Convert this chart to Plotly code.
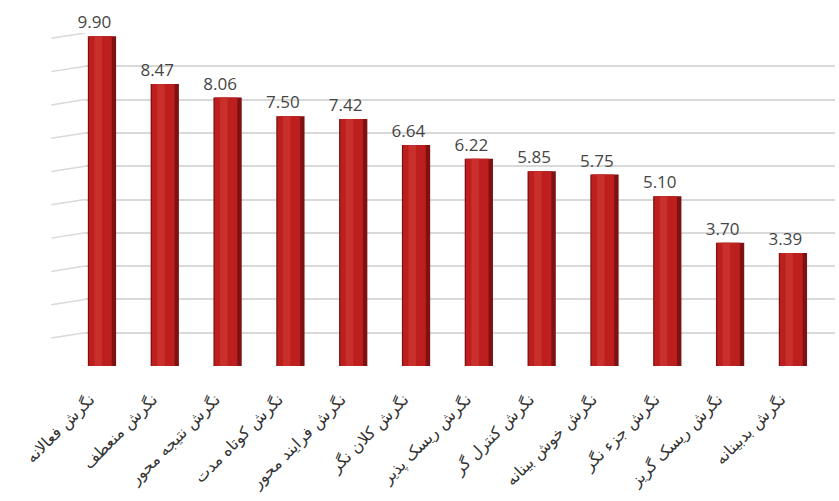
import plotly.graph_objects as go

categories = [
    "نگرش فعالانه",
    "نگرش منعطف",
    "نگرش نتیجه محور",
    "نگرش کوتاه مدت",
    "نگرش فرایند محور",
    "نگرش کلان نگر",
    "نگرش ریسک پذیر",
    "نگرش کنترل گر",
    "نگرش خوش بینانه",
    "نگرش جزء نگر",
    "نگرش ریسک گریز",
    "نگرش بدبینانه",
]
values = [9.90, 8.47, 8.06, 7.50, 7.42, 6.64, 6.22, 5.85, 5.75, 5.10, 3.70, 3.39]
y_ticks = list(range(0, 11))

idx = list(range(len(categories)))

fig = go.Figure()
# cylinder-like shading built from overlaid bars
fig.add_bar(
    x=idx, y=values, width=0.45,
    marker=dict(color="#7E1111", line=dict(width=0)),
    hoverinfo="skip",
)
fig.add_bar(
    x=idx, y=values, width=0.36, offset=-0.205,
    marker=dict(color="#BD1F1E", line=dict(width=0)),
    hoverinfo="skip",
)
fig.add_bar(
    x=idx, y=values, width=0.12, offset=-0.12,
    marker=dict(color="#C9302B", line=dict(width=0)),
    hoverinfo="skip",
)
# value labels (transparent carrier bar, labels sit slightly left of centre)
fig.add_bar(
    x=idx, y=values, width=0.3, offset=-0.27,
    marker=dict(color="rgba(0,0,0,0)", line=dict(width=0)),
    text=[f"{v:.2f}" for v in values],
    textposition="outside",
    constraintext="none",
    textfont=dict(family="Open Sans, DejaVu Sans", size=17, color="#454545"),
    cliponaxis=False,
    hoverinfo="skip",
)

# slanted side-wall gridlines on the left
for v in y_ticks:
    fig.add_shape(
        type="line", xref="paper", yref="y",
        x0=-0.045, y0=v - 0.16, x1=0.0, y1=v,
        line=dict(color="#D9D9D9", width=1.5),
        layer="below",
    )

fig.update_layout(
    width=839, height=501,
    margin=dict(l=85, r=4, t=33, b=135),
    paper_bgcolor="white",
    plot_bgcolor="white",
    barmode="overlay",
    showlegend=False,
    xaxis=dict(
        tickmode="array", tickvals=idx, ticktext=categories,
        tickangle=-45,
        tickfont=dict(family="DejaVu Sans", size=16, color="#333333"),
        ticklabelstandoff=20,
        ticklabelshift=-12,
        range=[-0.27, 11.67],
        showgrid=False, zeroline=False, showline=False, ticks="",
    ),
    yaxis=dict(
        range=[0, 10],
        tickvals=y_ticks,
        showticklabels=False,
        showgrid=True, gridcolor="#D9D9D9", gridwidth=1.5,
        zeroline=False, showline=False, ticks="",
    ),
)

fig.write_html("out.html")
